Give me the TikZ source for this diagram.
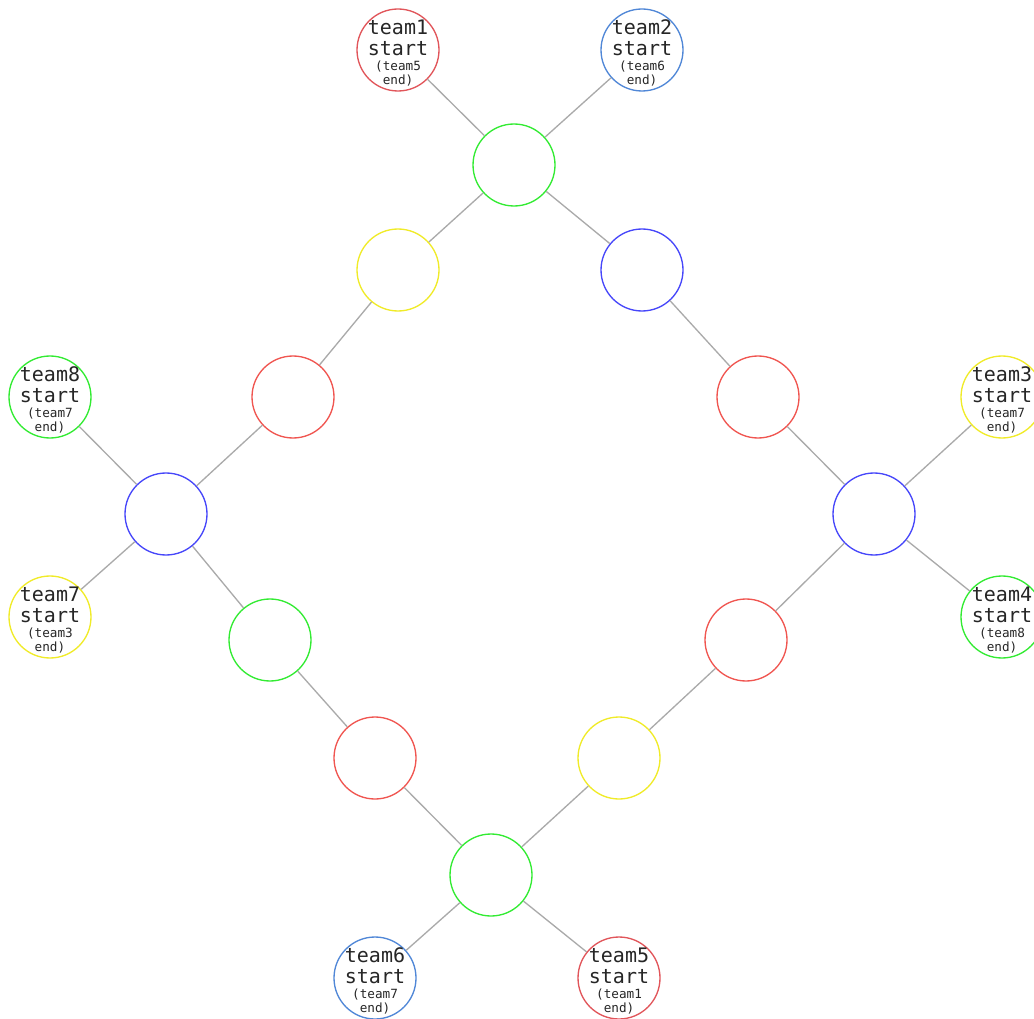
\documentclass[tikz,border=0pt]{standalone}
\usepackage{fontspec}
\setmonofont{DejaVu Sans Mono}
\definecolor{cred}{RGB}{240,85,80}
\definecolor{tred}{RGB}{225,85,90}
\definecolor{cblue}{RGB}{70,70,250}
\definecolor{tblue}{RGB}{80,135,215}
\definecolor{cgreen}{RGB}{50,235,50}
\definecolor{cyellow}{RGB}{240,235,40}
\definecolor{edgegray}{RGB}{170,170,170}
\tikzset{
  vtx/.style={circle, draw, line width=1pt, minimum size=61.5pt, inner sep=0pt, fill=white},
  teamtext/.style={align=center, inner sep=0pt, yshift=-2.3pt, font=\ttfamily\fontsize{15}{15.5}\selectfont, text=black!85},
  link/.style={draw=edgegray, line width=1pt},
}
\newcommand{\smalltxt}{\fontsize{9.5}{9}\selectfont}
\newcommand{\tlab}[2]{#1\\start\\[-4pt]\smalltxt(#2\\[-5.5pt]\smalltxt end)}
\begin{document}
\begin{tikzpicture}[x=0.75pt,y=-0.75pt]
\useasboundingbox (0,0) rectangle (1034,1019);
% inner nodes
\node[vtx, draw=cgreen] (g1) at (514,165) {};
\node[vtx, draw=cyellow] (y1) at (398,270) {};
\node[vtx, draw=cblue] (b1) at (642,270) {};
\node[vtx, draw=cred] (r1) at (293,397) {};
\node[vtx, draw=cred] (r2) at (758,397) {};
\node[vtx, draw=cblue] (bl) at (166,514) {};
\node[vtx, draw=cblue] (br) at (874,514) {};
\node[vtx, draw=cgreen] (g2) at (270,640) {};
\node[vtx, draw=cred] (r3) at (746,640) {};
\node[vtx, draw=cred] (r4) at (375,758) {};
\node[vtx, draw=cyellow] (y2) at (619,758) {};
\node[vtx, draw=cgreen] (g3) at (491,875) {};
% team nodes
\node[vtx, draw=tred, label={[teamtext]center:\tlab{team1}{team5}}] (t1) at (398,50) {};
\node[vtx, draw=tblue, label={[teamtext]center:\tlab{team2}{team6}}] (t2) at (642,50) {};
\node[vtx, draw=cgreen, label={[teamtext]center:\tlab{team8}{team7}}] (t8) at (50,397) {};
\node[vtx, draw=cyellow, label={[teamtext]center:\tlab{team3}{team7}}] (t3) at (1002,397) {};
\node[vtx, draw=cyellow, label={[teamtext]center:\tlab{team7}{team3}}] (t7) at (50,617) {};
\node[vtx, draw=cgreen, label={[teamtext]center:\tlab{team4}{team8}}] (t4) at (1002,617) {};
\node[vtx, draw=tblue, label={[teamtext]center:\tlab{team6}{team7}}] (t6) at (375,978) {};
\node[vtx, draw=tred, label={[teamtext]center:\tlab{team5}{team1}}] (t5) at (619,978) {};
% edges
\path[link] (t1) -- (g1);
\path[link] (t2) -- (g1);
\path[link] (g1) -- (y1);
\path[link] (g1) -- (b1);
\path[link] (y1) -- (r1);
\path[link] (b1) -- (r2);
\path[link] (r1) -- (bl);
\path[link] (r2) -- (br);
\path[link] (t8) -- (bl);
\path[link] (t7) -- (bl);
\path[link] (t3) -- (br);
\path[link] (t4) -- (br);
\path[link] (bl) -- (g2);
\path[link] (br) -- (r3);
\path[link] (g2) -- (r4);
\path[link] (r3) -- (y2);
\path[link] (r4) -- (g3);
\path[link] (y2) -- (g3);
\path[link] (g3) -- (t6);
\path[link] (g3) -- (t5);
\end{tikzpicture}
\end{document}
